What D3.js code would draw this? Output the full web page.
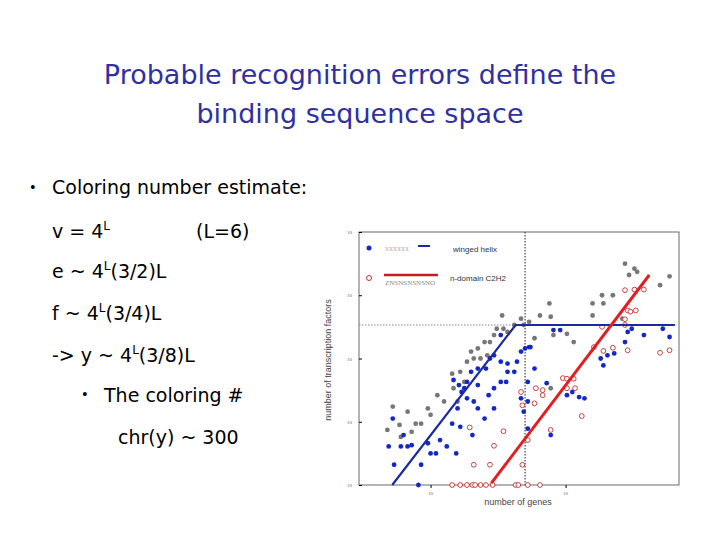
<!DOCTYPE html>
<html><head><meta charset="utf-8">
<script src="https://cdn.jsdelivr.net/npm/d3@7"></script>
<style>body{margin:0;background:#fff}</style>
</head><body>
<svg id="slide" width="720" height="540"></svg>
<script>
// all values as log10(genes), log10(transcription factors)
let grayPts = [[2.72,1.24],[2.77,0.95],[2.68,0.87],[2.78,0.76],[2.83,1.16],[2.89,0.97],[2.93,0.97],[3.00,1.11],
  [3.05,1.42],[3.16,1.76],[3.17,1.53],[3.20,1.32],[3.25,1.63],[3.27,1.95],[3.32,2.00],[3.35,2.16],[3.37,2.00],
  [3.42,2.05],[3.44,2.26],[3.47,2.37],[3.53,2.68],[3.57,2.42],[3.62,2.53],[3.67,2.63],[3.69,2.53],[3.73,2.58],
  [3.77,2.32],[3.81,2.68],[3.88,2.87],[3.89,2.66],[3.91,2.37],[3.89,1.53],[4.01,2.39],[4.06,2.26],[4.20,2.87],
  [4.20,2.68],[4.27,3.00],[4.28,2.87],[4.35,3.00],[4.42,2.63],[4.44,3.50],[4.47,3.32],[4.51,3.42],[4.53,3.37],
  [4.70,3.16],[4.77,3.30],[3.22,1.79],[3.30,2.11],[3.40,2.26],[3.49,2.47],[3.54,2.47],[3.10,1.32],[2.98,1.21],[2.86,0.84]];
let bluePts = [[2.69,0.61],[2.72,1.05],[2.73,0.32],[2.78,0.61],[2.83,0.61],[2.86,0.63],[2.80,0.79],[2.93,0.32],
  [2.91,0],[2.98,0.66],[3.00,0.50],[3.04,0.50],[3.12,0.61],[3.19,0.50],[3.07,0.71],[3.16,0.97],[3.22,0.92],
  [3.31,0.79],[3.17,1.66],[3.21,1.58],[3.25,1.53],[3.27,1.37],[3.32,1.32],[3.35,1.21],[3.40,1.05],[3.47,1.21],
  [3.52,1.63],[3.30,1.79],[3.35,1.84],[3.41,1.84],[3.44,2.00],[3.47,2.05],[3.52,1.95],[3.57,1.92],[3.62,1.79],
  [3.64,1.95],[3.67,2.11],[3.70,2.16],[3.73,2.18],[3.74,2.18],[3.77,1.84],[3.67,1.37],[3.72,1.32],[3.69,1.16],
  [3.72,1.63],[3.86,1.61],[3.89,0.79],[3.91,2.45],[3.96,2.45],[4.26,2.00],[4.28,1.89],[4.31,2.05],[4.36,2.08],
  [4.44,2.26],[4.46,2.42],[4.49,2.47],[4.58,2.37],[4.72,2.47],[4.77,2.34],[4.01,1.42],[4.05,1.47],[4.10,1.39],
  [4.14,1.37],[3.52,2.37],[3.72,0.89],[3.35,1.58],[3.47,1.53],[3.57,1.79],[3.27,1.63],[3.23,1.47],[3.20,1.21],
  [3.43,1.42],[3.56,1.63]];
let redPts = [[3.16,0],[3.22,0],[3.27,0],[3.31,0],[3.33,0],[3.37,0],[3.41,0],[3.46,0],[3.63,0],[3.65,0],[3.72,0],
  [3.81,0],[3.29,0.91],[3.54,0.85],[3.47,0.62],[3.32,0.32],[3.44,0.32],[3.68,0.32],[3.72,0.71],[3.77,1.29],
  [3.67,1.47],[3.68,1.26],[3.78,1.53],[3.83,1.50],[3.83,1.42],[3.89,0.87],[3.98,1.69],[4.01,1.68],[4.06,1.68],
  [4.07,1.53],[4.01,1.53],[4.12,1.09],[4.21,2.18],[4.28,2.12],[4.35,2.17],[4.27,2.50],[4.46,2.13],[4.44,2.62],
  [4.44,3.08],[4.46,2.76],[4.48,2.74],[4.52,2.76],[4.51,3.09],[4.58,3.09],[4.70,2.09],[4.77,2.13],[4.44,2.53]];
let blueFit = [[2.716,0],[3.63,2.53],[4.81,2.53]];
let redFit = [[3.45,0.03],[4.62,3.32]];
let titleLines = ["Probable recognition errors define the", "binding sequence space"];

let svg = d3.select("#slide");
let font = "'Comic Sans MS', 'DejaVu Sans', sans-serif";

svg.selectAll("text.title").data(titleLines).enter().append("text")
    .attr("x", 360).attr("y", (d, i) => 84 + i * 39)
    .attr("text-anchor", "middle").attr("font-family", font)
    .attr("font-size", 27).attr("fill", "#3030a0").text(d => d);

function line(x, y, parts, size) {
    let t = svg.append("text").attr("x", x).attr("y", y)
        .attr("font-family", font).attr("font-size", size || 19).attr("fill", "#000");
    parts.forEach(p => {
        let s = t.append("tspan").text(p[0]);
        if (p[1]) s.attr("font-size", 12).attr("dy", -8);
        if (p[2]) s.attr("dy", 8);
    });
}
svg.append("text").attr("x", 30).attr("y", 193).attr("font-size", 16).text("•");
line(52, 194, [["Coloring number estimate:"]]);
line(52, 238, [["v = 4"], ["L", 1]]);
line(196, 238, [["(L=6)"]]);
line(52, 278, [["e ~ 4"], ["L", 1], ["(3/2)L", 0, 1]]);
line(52, 320, [["f ~ 4"], ["L", 1], ["(3/4)L", 0, 1]]);
line(52, 362, [["-> y ~ 4"], ["L", 1], ["(3/8)L", 0, 1]]);
svg.append("text").attr("x", 82).attr("y", 400).attr("font-size", 16).text("•");
line(104, 402, [["The coloring #"]]);
line(118, 444, [["chr(y) ~ 300"]]);

// chart
let x = d3.scaleLinear().domain([2.47, 4.84]).range([359, 679]);
let y = d3.scaleLinear().domain([0, 4]).range([485, 232]);
let g = svg.append("g");
g.append("rect").attr("x", 359).attr("y", 232).attr("width", 320).attr("height", 253)
    .attr("fill", "none").attr("stroke", "#444").attr("stroke-width", 0.8);

let xAxis = d3.axisBottom(x).tickValues([3, 4]).tickSize(3).tickFormat(() => "");
g.append("g").attr("transform", "translate(0,485)").call(xAxis).call(a => a.select(".domain").remove());
let yAxis = d3.axisLeft(y).tickValues([0, 1, 2, 3, 4]).tickSize(-3).tickFormat(() => "");
g.append("g").attr("transform", "translate(359,0)").call(yAxis).call(a => a.select(".domain").remove());
[0, 1, 2, 3, 4].forEach(v => {
    g.append("text").attr("x", 352).attr("y", y(v) + 2).attr("text-anchor", "end")
        .attr("font-size", 5).attr("fill", "#666").text("10");
});
[3, 4].forEach(v => {
    g.append("text").attr("x", x(v)).attr("y", 495).attr("text-anchor", "middle")
        .attr("font-size", 5).attr("fill", "#666").text("10");
});
g.append("text").attr("x", 518).attr("y", 505).attr("text-anchor", "middle")
    .attr("font-family", "Liberation Sans").attr("font-size", 9).attr("fill", "#444").text("number of genes");
g.append("text").attr("transform", "translate(331,360) rotate(-90)").attr("text-anchor", "middle")
    .attr("font-family", "Liberation Sans").attr("font-size", 9).attr("fill", "#444")
    .text("number of transcription factors");

g.append("line").attr("x1", x(3.70)).attr("x2", x(3.70)).attr("y1", 232).attr("y2", 485)
    .attr("stroke", "#222").attr("stroke-dasharray", "1.5,1.5");
g.append("line").attr("x1", 359).attr("x2", x(3.63)).attr("y1", y(2.53)).attr("y2", y(2.53))
    .attr("stroke", "#888").attr("stroke-width", 1.2).attr("stroke-dasharray", "1.5,1.5");

g.selectAll("circle.gray").data(grayPts).enter().append("circle")
    .attr("cx", d => x(d[0])).attr("cy", d => y(d[1])).attr("r", 2.4).attr("fill", "#777");
g.selectAll("circle.blue").data(bluePts).enter().append("circle")
    .attr("cx", d => x(d[0])).attr("cy", d => y(d[1])).attr("r", 2.4).attr("fill", "#1428c8");
g.selectAll("circle.red").data(redPts).enter().append("circle")
    .attr("cx", d => x(d[0])).attr("cy", d => y(d[1])).attr("r", 2.4)
    .attr("fill", "#fff").attr("stroke", "#c03030").attr("stroke-width", 0.9);

let path = d3.line().x(d => x(d[0])).y(d => y(d[1]));
g.append("path").attr("d", path(blueFit)).attr("fill", "none").attr("stroke", "#1a2aa0").attr("stroke-width", 2.2);
g.append("path").attr("d", path(redFit)).attr("fill", "none").attr("stroke", "#e02020").attr("stroke-width", 3);

// legend
g.append("circle").attr("cx", 369).attr("cy", 248).attr("r", 2.5).attr("fill", "#1428c8");
g.append("text").attr("x", 385).attr("y", 251).attr("font-size", 8).attr("fill", "#c9a0a0").text("xxxxxx");
g.append("line").attr("x1", 418).attr("x2", 430).attr("y1", 246).attr("y2", 246).attr("stroke", "#1a2aa0").attr("stroke-width", 2);
g.append("text").attr("x", 453).attr("y", 252).attr("font-family", "Liberation Sans").attr("font-size", 8).attr("fill", "#333").text("winged helix");
g.append("circle").attr("cx", 369).attr("cy", 278).attr("r", 2.5).attr("fill", "#fff").attr("stroke", "#c03030");
g.append("line").attr("x1", 384).attr("x2", 438).attr("y1", 275).attr("y2", 275).attr("stroke", "#c02020").attr("stroke-width", 2.5);
g.append("text").attr("x", 385).attr("y", 285).attr("font-size", 7).attr("fill", "#888").text("ZNSNSNSNSNO");
g.append("text").attr("x", 450).attr("y", 281).attr("font-family", "Liberation Sans").attr("font-size", 8).attr("fill", "#333").text("n-domain C2H2");
</script>
</body></html>
